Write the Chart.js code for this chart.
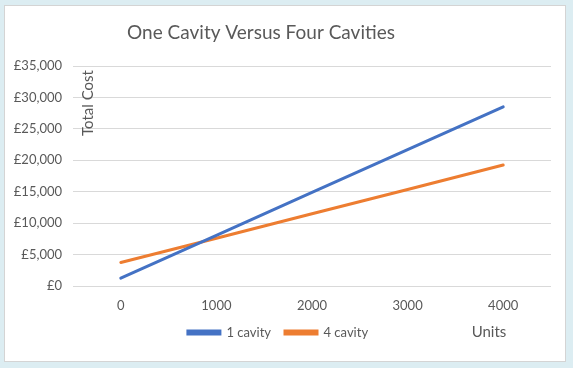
<!DOCTYPE html>
<html>
<head>
<meta charset="utf-8">
<script src="https://cdn.jsdelivr.net/npm/chart.js@4.4.1/dist/chart.umd.min.js"></script>
<style>
  html, body { margin: 0; padding: 0; }
  body { width: 573px; height: 368px; background: #dcedf2; position: relative; overflow: hidden; }
  #box { position: absolute; left: 4px; top: 5px; width: 560px; height: 355px; background: #fff; border: 1px solid #d4d4d4; }
  #box canvas { position: absolute; left: 0; top: 0; }
</style>
</head>
<body>
<div id="box"><canvas id="costChart" width="560" height="355"></canvas></div>
<script>
// units on the x axis
const units = ['0', '1000', '2000', '3000', '4000'];
// total cost
const oneCavity = [1250, 8050, 14900, 21700, 28500];
const fourCavity = [3750, 7600, 11500, 15350, 19250];

const textColor = '#595959';
const fontFamily = 'Lato, "Open Sans", sans-serif';

// title and axis titles are placed like the original, so draw them by hand
const chartText = {
    id: 'chartText',
    afterDraw(chart) {
        const ctx = chart.ctx;
        ctx.save();
        ctx.fillStyle = textColor;
        ctx.textAlign = 'center';
        ctx.textBaseline = 'middle';
        ctx.font = '19px ' + fontFamily;
        ctx.fillText('One Cavity Versus Four Cavities', 256, 27);
        ctx.font = '15px ' + fontFamily;
        ctx.fillText('Units', 484, 326);
        ctx.translate(83, 97);
        ctx.rotate(-Math.PI / 2);
        ctx.fillText('Total Cost', 0, 0);
        ctx.restore();
    }
};

new Chart('costChart', {
    type: 'line',
    data: {
        labels: units,
        datasets: [
            { label: '1 cavity', data: oneCavity, borderColor: '#4472c4', backgroundColor: '#4472c4' },
            { label: '4 cavity', data: fourCavity, borderColor: '#ed7d31', backgroundColor: '#ed7d31' }
        ]
    },
    options: {
        responsive: false,
        animation: false,
        elements: {
            line: { borderWidth: 3, tension: 0, borderCapStyle: 'round' },
            point: { radius: 0 }
        },
        layout: { padding: { left: 0, right: 14, top: 60, bottom: 12 } },
        scales: {
            x: {
                offset: true,
                grid: { display: false, drawTicks: false },
                border: { display: false },
                ticks: { color: textColor, font: { family: fontFamily, size: 13 }, padding: 12 },
                afterFit(scale) { scale.height = 26; }
            },
            y: {
                min: 0,
                max: 35000,
                grid: { color: '#d9d9d9', drawTicks: false },
                border: { display: false },
                ticks: {
                    stepSize: 5000,
                    color: textColor,
                    font: { family: fontFamily, size: 13 },
                    padding: 11,
                    callback: v => '£' + v.toLocaleString('en-GB')
                },
                afterFit(scale) { scale.width = 68; }
            }
        },
        plugins: {
            title: { display: false },
            legend: {
                position: 'bottom',
                labels: {
                    color: textColor,
                    font: { family: fontFamily, size: 13 },
                    boxWidth: 32,
                    boxHeight: 3,
                    padding: 14
                }
            },
            tooltip: { enabled: false }
        }
    },
    plugins: [chartText]
});
</script>
</body>
</html>
